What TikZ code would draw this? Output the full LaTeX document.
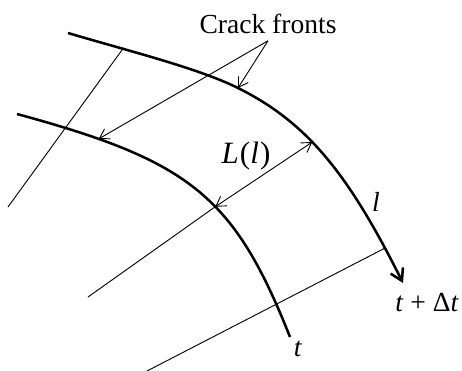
\documentclass[tikz,border=0pt]{standalone}
\usepackage{fontspec}
\setmainfont{Liberation Serif}
\usepackage{tikz}
\usetikzlibrary{arrows.meta}
\tikzset{
  frente/.style={line width=1.1pt},
  raio/.style={line width=0.4pt},
  seta/.style={-{Straight Barb[length=4pt,width=5pt]}, line width=0.4pt},
  setadupla/.style={{Straight Barb[length=4pt,width=5pt]}-{Straight Barb[length=4pt,width=5pt]}, line width=0.4pt},
  rotulo/.style={font=\large, inner sep=1pt},
}

\begin{document}
\begin{tikzpicture}[x=0.0153cm, y=-0.0153cm]
  \useasboundingbox (0,0) rectangle (462,371);
  % front at t
  \draw[frente] (17,114) .. controls (190,161) and (234,196) .. (290,337)
    coordinate[pos=0.18] (int) coordinate[pos=0.58] (Linf);
  % front at t + dt
  \draw[frente, -{Straight Barb[length=5pt,width=6pt]}] (68,33) .. controls (125,50) and (198,68) .. (238,88) coordinate (ext)
    .. controls (305.5,121.75) and (346.75,170.5) .. (403,283)
    coordinate[pos=0.42] (Lsup) coordinate[pos=0.89] (r3b);
  % normals
  \coordinate (r1a) at (8,207);
  \coordinate (r1b) at (122,50);
  \coordinate (r2a) at (88,297);
  \coordinate (r3a) at (147,371);
  \draw[raio] (r1a) -- (r1b);
  \draw[raio] (r2a) -- (Linf);
  \draw[raio] (r3a) -- (r3b);
  % labels
  \node[rotulo, inner sep=3pt] (frentes) at (268,23.6) {Crack fronts};
  \draw[seta] (frentes.south) -- (ext);
  \draw[seta] (frentes.south) -- (int);
  \draw[setadupla] (Linf) -- (Lsup);
  \node[rotulo, font=\fontsize{13.5}{16}\selectfont] (largura) at (246,156) {\textit{L}\kern0.5pt(\textit{l}\kern0.5pt)};
  \node[rotulo] (l) at (376,202) {\textit{l}};
  \node[rotulo] (tdt) at (427,303) {\textit{t} + Δ\textit{t}};
  \node[rotulo] (t) at (298,349) {\textit{t}};
\end{tikzpicture}
\end{document}
